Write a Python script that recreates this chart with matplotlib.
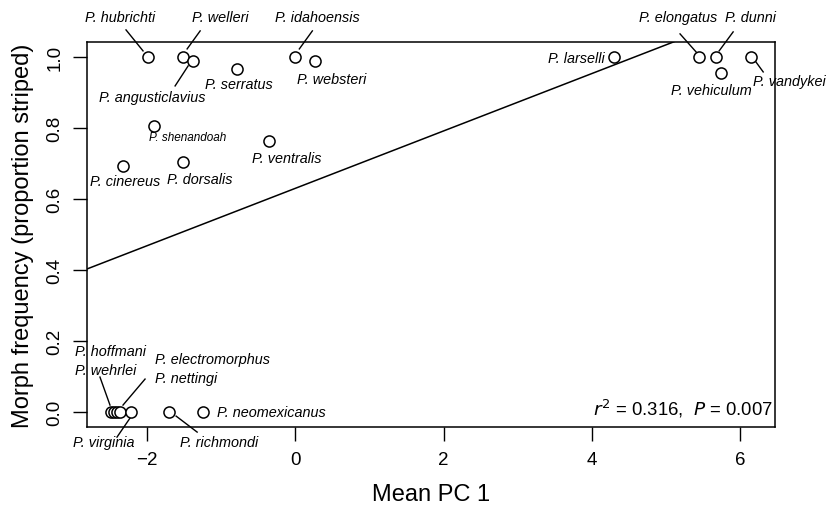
import matplotlib
matplotlib.use("Agg")
import matplotlib.pyplot as plt
import numpy as np

plt.rcParams['font.family'] = ['Liberation Sans', 'DejaVu Sans']

species = ["P. hubrichti", "P. welleri", "P. angusticlavius", "P. serratus",
           "P. idahoensis", "P. websteri", "P. shenandoah", "P. ventralis",
           "P. cinereus", "P. dorsalis", "P. larselli", "P. elongatus",
           "P. dunni", "P. vehiculum", "P. vandykei", "P. hoffmani",
           "P. wehrlei", "P. electromorphus", "P. nettingi", "P. virginia",
           "P. richmondi", "P. neomexicanus"]
mean_pc1 = [-1.99, -1.52, -1.38, -0.79, -0.01, 0.26, -1.91, -0.36, -2.32, -1.51,
            4.30, 5.44, 5.67, 5.74, 6.14, -2.48, -2.45, -2.41, -2.37, -2.22,
            -1.70, -1.25]
prop_striped = [1.0, 1.0, 0.988, 0.965, 1.0, 0.988, 0.806, 0.764, 0.694, 0.703,
                1.0, 1.0, 1.0, 0.955, 1.0, 0.0, 0.0, 0.0, 0.0, 0.0, 0.0, 0.0]
fit_intercept = 0.630
fit_slope = 0.0808
stats_text = r"$r^2$ = 0.316,  $P$ = 0.007"

W, H = 833, 506
fig = plt.figure(figsize=(W / 100, H / 100), dpi=100)
L, R, T, B = 87, 775, 43, 428
ax = fig.add_axes([L / W, 1 - B / H, (R - L) / W, (B - T) / H])

XLIM = (-2.81, 6.47)
ax.set_xlim(*XLIM)
ax.set_ylim(-0.042, 1.042)

def px2d(px, py):
    return ((px - 295) / 74.0, (413 - py) / 355.0)

# regression line
xl = np.array(XLIM)
ax.plot(xl, fit_intercept + fit_slope * xl, color='black', lw=1.1, zorder=2)
ax.set_xlim(*XLIM)

ax.plot(mean_pc1, prop_striped, 'o', ms=8, mfc='white', mec='black', mew=1.1,
        zorder=3, clip_on=False)

# label layout in pixel coordinates: (x, y, ha, size)
S = 10.4
label_pos = {
    "P. hubrichti": (120, 18, 'center', S),
    "P. welleri": (220, 18, 'center', S),
    "P. idahoensis": (317, 18, 'center', S),
    "P. angusticlavius": (152, 98, 'center', S),
    "P. serratus": (239, 85, 'center', S),
    "P. websteri": (331, 80, 'center', S),
    "P. shenandoah": (187, 138, 'center', 8.5),
    "P. ventralis": (286, 159, 'center', S),
    "P. cinereus": (125, 182, 'center', S),
    "P. dorsalis": (200, 180, 'center', S),
    "P. larselli": (604, 59, 'right', S),
    "P. elongatus": (677, 18, 'center', S),
    "P. dunni": (749, 18, 'center', S),
    "P. vehiculum": (710, 91, 'center', S),
    "P. vandykei": (788, 82, 'center', S),
    "P. hoffmani": (75, 352, 'left', S),
    "P. wehrlei": (75, 371, 'left', S),
    "P. electromorphus": (155, 360, 'left', S),
    "P. nettingi": (155, 379, 'left', S),
    "P. virginia": (73, 443, 'left', S),
    "P. richmondi": (180, 443, 'left', S),
    "P. neomexicanus": (217, 413, 'left', S),
}
for sp in species:
    px, py, ha, sz = label_pos[sp]
    x, y = px2d(px, py)
    ax.text(x, y, sp, ha=ha, va='center', fontsize=sz, style='italic',
            clip_on=False, zorder=4)

leaders = [
    ((126, 31), (143, 52)),
    ((200, 32), (187, 50)),
    ((312, 32), (299, 50)),
    ((175, 87), (188, 67)),
    ((679, 35), (695, 53)),
    ((732, 33), (718, 52)),
    ((754, 62), (762, 73)),
    ((100, 378), (110, 406)),
    ((145, 380), (123, 406)),
    ((117, 438), (130, 419)),
    ((176, 417), (197, 433)),
]
for (p0, p1) in leaders:
    a = px2d(*p0)
    b = px2d(*p1)
    ax.plot([a[0], b[0]], [a[1], b[1]], color='black', lw=1.0, clip_on=False,
            zorder=2)

sx, sy = px2d(772, 409)
ax.text(sx, sy, stats_text, ha='right', va='center', fontsize=13.3)

ax.set_xticks([-2, 0, 2, 4, 6])
ax.set_xticklabels(["\u22122", "0", "2", "4", "6"])
ax.set_yticks([0.0, 0.2, 0.4, 0.6, 0.8, 1.0])
ax.set_yticklabels(["0.0", "0.2", "0.4", "0.6", "0.8", "1.0"], rotation=90,
                   va='center')
ax.tick_params(axis='both', length=10, width=1.0, labelsize=13.5, pad=7,
               direction='out')
for s in ax.spines.values():
    s.set_linewidth(1.1)

ax.set_xlabel("Mean PC 1", fontsize=17, labelpad=11)
ax.set_ylabel("Morph frequency (proportion striped)", fontsize=17, labelpad=9)

fig.savefig("out.png", dpi=100)
